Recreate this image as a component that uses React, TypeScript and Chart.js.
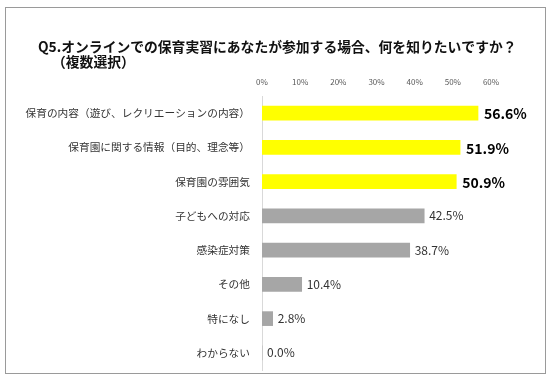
import React, { useEffect, useRef } from "react";
import { Chart, registerables } from "chart.js";

Chart.register(...registerables);

const titleLine1 = "Q5.オンラインでの保育実習にあなたが参加する場合、何を知りたいですか？";
const titleLine2 = "（複数選択）";

const categories = [
  "保育の内容（遊び、レクリエーションの内容）",
  "保育園に関する情報（目的、理念等）",
  "保育園の雰囲気",
  "子どもへの対応",
  "感染症対策",
  "その他",
  "特になし",
  "わからない",
];

const values = [56.6, 51.9, 50.9, 42.5, 38.7, 10.4, 2.8, 0.0];
const highlighted = [true, true, true, false, false, false, false, false];
const tickValues = [0, 10, 20, 30, 40, 50, 60];

const FONT = "'Noto Sans CJK JP', 'Noto Sans', sans-serif";

const framePlugin = {
  id: "frame",
  beforeDraw(chart: any) {
    const ctx = chart.ctx;
    ctx.save();
    ctx.fillStyle = "#ffffff";
    ctx.fillRect(0, 0, chart.width, chart.height);
    ctx.strokeStyle = "#9a9a9a";
    ctx.lineWidth = 1;
    ctx.strokeRect(5.5, 7.5, 540, 366);
    ctx.fillStyle = "#111111";
    ctx.font = `bold 13.8px ${FONT}`;
    ctx.textBaseline = "middle";
    ctx.textAlign = "left";
    ctx.fillText(titleLine1, 38, 47);
    ctx.fillText(titleLine2, 52, 62);
    ctx.restore();
  },
  afterDatasetsDraw(chart: any) {
    const ctx = chart.ctx;
    const meta = chart.getDatasetMeta(0);
    ctx.save();
    ctx.textBaseline = "middle";
    ctx.textAlign = "left";
    meta.data.forEach((bar: any, i: number) => {
      const v = values[i];
      const label = v.toFixed(1) + "%";
      if (highlighted[i]) {
        ctx.font = `bold 14px ${FONT}`;
        ctx.fillStyle = "#000000";
        ctx.fillText(label, bar.x + 6, bar.y + 1);
      } else {
        ctx.font = `12px ${FONT}`;
        ctx.fillStyle = "#333333";
        ctx.fillText(label, bar.x + 5, bar.y);
      }
    });
    ctx.restore();
  },
};

export default function App() {
  const ref = useRef<HTMLCanvasElement>(null);
  useEffect(() => {
    const chart = new Chart(ref.current!, {
      type: "bar",
      data: {
        labels: categories,
        datasets: [
          {
            data: values,
            backgroundColor: values.map((_, i) => (highlighted[i] ? "#FFFF00" : "#A6A6A6")),
            barThickness: 14,
            borderWidth: 0,
          },
        ],
      },
      options: {
        indexAxis: "y",
        animation: false,
        responsive: false,
        maintainAspectRatio: false,
        layout: { padding: { left: 0, right: 64, top: 0, bottom: 9 } },
        plugins: {
          legend: { display: false },
          tooltip: { enabled: false },
          title: { display: false },
        },
        scales: {
          x: {
            position: "top",
            min: 0,
            max: 60,
            afterBuildTicks: (scale: any) => {
              scale.ticks = tickValues.map((v) => ({ value: v }));
            },
            afterFit: (scale: any) => {
              scale.height = 96;
            },
            grid: { display: false, drawTicks: false },
            border: { display: false },
            ticks: {
              padding: 9,
              color: "#595959",
              font: { family: FONT, size: 8 },
              callback: (v: any) => v + "%",
              maxRotation: 0,
            },
          },
          y: {
            afterFit: (scale: any) => {
              scale.width = 262;
              scale.paddingTop = 0;
              scale.paddingBottom = 0;
            },
            grid: { display: false, drawTicks: false },
            border: { display: true, color: "#d9d9d9", width: 1 },
            ticks: {
              padding: 12,
              color: "#333333",
              font: { family: FONT, size: 10.7 },
            },
          },
        },
      },
      plugins: [framePlugin],
    });
    return () => chart.destroy();
  }, []);
  return (
    <div style={{ position: "absolute", left: 0, top: 0, width: 555, height: 379 }}>
      <canvas ref={ref} width={555} height={379} style={{ width: 555, height: 379 }} />
    </div>
  );
}
